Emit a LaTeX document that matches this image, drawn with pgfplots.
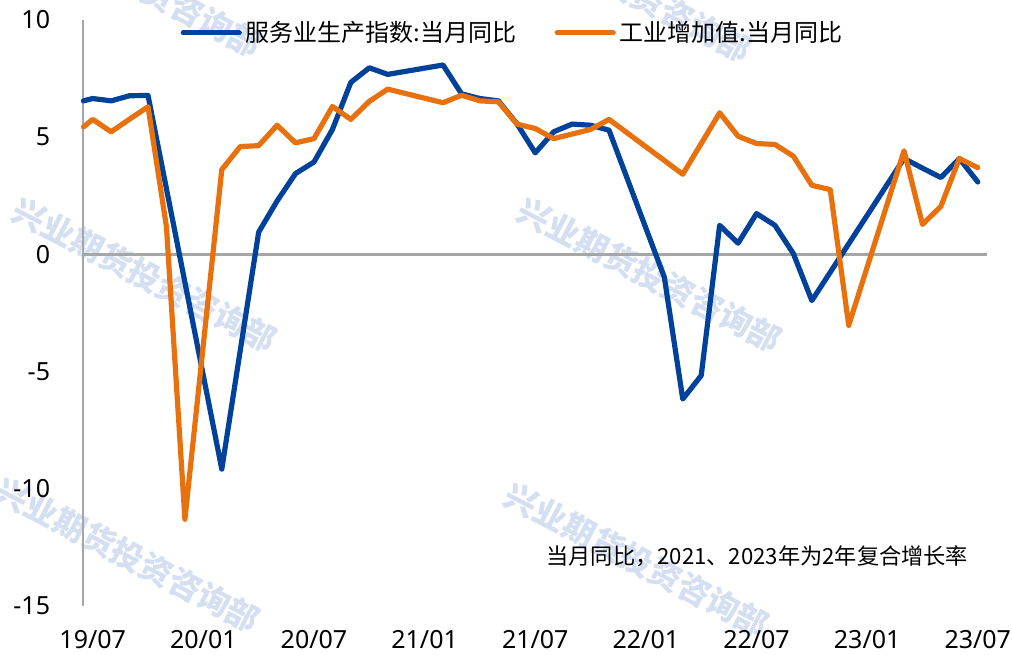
\documentclass[border=0pt]{standalone}
\usepackage{fontspec}
\setmainfont{Noto Sans CJK SC}
\newfontfamily\latinfont{Noto Sans}
\usepackage{pgfplots}
\pgfplotsset{compat=1.18}
\definecolor{sblue}{RGB}{0,66,153}
\definecolor{sorange}{RGB}{232,113,14}
\definecolor{wm}{RGB}{213,223,242}
\definecolor{axgray}{RGB}{166,166,166}

\pgfplotstableread{
x y
-0.5 6.55
0 6.65
1 6.55
2 6.77
3 6.78
7 -9.16
9 0.95
10 2.28
11 3.45
12 3.94
13 5.33
14 7.34
15 7.96
16 7.68
19 8.08
20 6.85
21 6.65
22 6.55
23 5.58
24 4.33
25 5.23
26 5.56
27 5.51
28 5.30
31 -0.97
32 -6.17
33 -5.17
34 1.24
35 0.48
36 1.74
37 1.24
38 0.03
39 -1.97
40 -0.76
44 4.09
45 3.68
46 3.28
47 4.09
48 3.09
}\services

\pgfplotstableread{
x y
-0.5 5.44
0 5.76
1 5.23
2 5.77
3 6.30
4 1.17
5 -11.30
7 3.62
8 4.60
9 4.64
10 5.51
11 4.76
12 4.94
13 6.31
14 5.76
15 6.53
16 7.05
19 6.47
20 6.79
21 6.55
22 6.51
23 5.56
24 5.37
25 4.94
27 5.33
28 5.76
32 3.42
34 6.04
35 5.04
36 4.73
37 4.69
38 4.19
39 2.95
40 2.76
41 -3.03
44 4.42
45 1.28
46 2.05
47 4.09
48 3.70
}\industry

\begin{document}
\begin{tikzpicture}
\path[use as bounding box] (0pt,0pt) rectangle (506pt,327pt);
\foreach \cx/\cy in {72.5/189.5, 325/189.5, 64/49.5, 318.5/47, 65/337, 310/334.5}{
  \node[rotate=-27.5, text=wm, font=\fontsize{16.2}{16}\selectfont\bfseries, inner sep=0pt] at (\cx pt,\cy pt) {兴业期货投资咨询部};
}
\begin{axis}[
  at={(41.75pt,24pt)}, anchor=south west,
  scale only axis, width=451.75pt, height=293pt,
  xmin=-0.5, xmax=48.5, ymin=-15, ymax=10,
  axis x line=bottom, axis y line=left,
  x axis line style={draw=none},
  y axis line style={draw=axgray, line width=1pt, -},
  major tick length=0pt,
  xtick={0,6,12,18,24,30,36,42,48},
  xticklabels={19/07,20/01,20/07,21/01,21/07,22/01,22/07,23/01,23/07},
  ytick={-15,-10,-5,0,5,10},
  yticklabels={-15,-10,-5,0,5,10},
  /pgf/number format/assume math mode=true,
  xticklabel style={font=\latinfont\fontsize{12.5}{14}\selectfont, anchor=north, inner sep=0pt, yshift=-12pt},
  yticklabel style={font=\latinfont\fontsize{12.5}{14}\selectfont, anchor=east, inner sep=0pt, xshift=-16.5pt},
  clip=false,
  legend style={at={(0.476,0.978)}, anchor=center, draw=none, fill=none,
    legend columns=2, font=\fontsize{12}{14}\selectfont, inner sep=0pt,
    /tikz/every even column/.append style={column sep=17pt}},
  legend image code/.code={\draw[#1] (0pt,0pt) -- (28pt,0pt);},
]
\draw[axgray, line width=1.2pt] (axis cs:-0.5,0) -- (axis cs:48.5,0);
\addplot[sblue, line width=2.6pt, line join=round, line cap=round] table[x=x,y=y] {\services};
\addlegendentry{服务业生产指数:当月同比}
\addplot[sorange, line width=2.6pt, line join=round, line cap=round] table[x=x,y=y] {\industry};
\addlegendentry{工业增加值:当月同比}
\node[anchor=east, font=\fontsize{11.1}{13}\selectfont, inner sep=0pt] at (axis cs:47.5,-12.9) {当月同比，2021、2023年为2年复合增长率};
\end{axis}
\end{tikzpicture}
\end{document}
